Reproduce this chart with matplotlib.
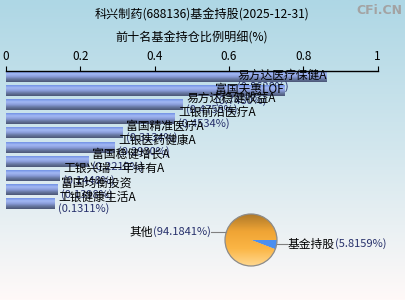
import matplotlib

matplotlib.use("Agg")
import matplotlib.pyplot as plt
import numpy as np
from matplotlib.colors import LinearSegmentedColormap
from matplotlib.patches import Circle

plt.rcParams["font.family"] = ["Noto Sans CJK SC", "DejaVu Sans"]

TITLE = "科兴制药(688136)基金持股(2025-12-31)"
SUBTITLE = "前十名基金持仓比例明细(%)"
FUNDS = [
    "易方达医疗保健A", "富国天惠LOF", "易方达稳健收益A", "工银前沿医疗A", "富国精准医疗A",
    "工银医药健康A", "富国稳健增长A", "工银兴瑞一年持有A", "富国均衡投资", "工银健康生活A",
]
RATIOS = [0.8628, 0.7480, 0.4758, 0.4534, 0.3134, 0.2930, 0.2210, 0.1448, 0.1398, 0.1311]
X_TICKS = [0, 0.2, 0.4, 0.6, 0.8, 1]
X_TICK_LABELS = ["0", "0.2", "0.4", "0.6", "0.8", "1"]
PIE_LABELS = ["基金持股", "其他"]
PIE_VALUES = [5.8159, 94.1841]

W, H = 405, 300
PCT_COLOR = "#27306b"


def px_box(left, top, right, bottom):
    return [left / W, 1 - bottom / H, (right - left) / W, (bottom - top) / H]


fig = plt.figure(figsize=(W / 100, H / 100), dpi=100)

# background gradient
bg = fig.add_axes([0, 0, 1, 1], zorder=-10)
bg_cmap = LinearSegmentedColormap.from_list("bg", ["#aed7e5", "#d3e7ee", "#fff9f8"])
bg.imshow(np.linspace(0, 1, 256).reshape(-1, 1), aspect="auto", cmap=bg_cmap, extent=(0, 1, 0, 1), origin="upper")
bg.set_axis_off()

fig.text(202 / W, 1 - 15 / H, TITLE, ha="center", va="center", fontsize=8.7)
fig.text(192 / W, 1 - 38 / H, SUBTITLE, ha="center", va="center", fontsize=8.7)
fig.text(402 / W, 1 - 10 / H, "CFi.CN", ha="right", va="center", fontsize=9, fontweight="bold",
         color="#a3a3a3", family="DejaVu Sans")

# bars
ax = fig.add_axes(px_box(6, 71, 377.7, 213))
ax.patch.set_alpha(0)
bar_cmap = LinearSegmentedColormap.from_list(
    "bar", ["#7393e6", "#a3b8f4", "#8a9ddb", "#66769f", "#4c5877"])
grad = np.linspace(0, 1, 32).reshape(-1, 1)
h = 0.74
for i, (name, val) in enumerate(zip(FUNDS, RATIOS)):
    ax.imshow(grad, cmap=bar_cmap, aspect="auto", origin="upper",
              extent=(0, val, i + h / 2, i - h / 2), zorder=2 + 2 * i)
    if val > 0.5:
        name_txt = ax.annotate(name, xy=(val, i), xytext=(0, 1.1), textcoords="offset points",
                               ha="right", va="center", fontsize=8.5, zorder=3 + 2 * i)
    else:
        name_txt = ax.annotate(name, xy=(val, i), xytext=(2.5, 5), textcoords="offset points",
                               ha="left", va="center", fontsize=8.5, zorder=3 + 2 * i)
    ax.annotate(f"({val:.4f}%)", xy=(0, 0.5), xycoords=name_txt, xytext=(0, -8.3),
                textcoords="offset points", ha="left", va="center", fontsize=8,
                color=PCT_COLOR, zorder=3 + 2 * i)

ax.set_xlim(0, 1)
ax.set_ylim(9.636, -0.389)
ax.xaxis.tick_top()
ax.set_xticks(X_TICKS)
ax.set_xticklabels(X_TICK_LABELS, fontsize=8.5)
ax.tick_params(axis="x", direction="out", length=3.6, width=0.8, pad=2, colors="black")
ax.set_yticks([])
for side in ("left", "right", "bottom"):
    ax.spines[side].set_visible(False)
ax.spines["top"].set_linewidth(1.0)

# pie
r_px = 26
pax = fig.add_axes(px_box(251 - 30, 240 - 30, 251 + 30, 240 + 30))
pax.patch.set_alpha(0)
lim = 30 / r_px
wedges, _ = pax.pie(PIE_VALUES, startangle=0, counterclock=False, radius=1,
                    colors=["#4b8ff0", "#f5a832"], wedgeprops=dict(linewidth=0))
pie_cmap = LinearSegmentedColormap.from_list("pie", ["#b07a2a", "#f0a535", "#fbb545", "#ffd88e"])
im = pax.imshow(np.linspace(0, 1, 64).reshape(-1, 1), cmap=pie_cmap, aspect="auto",
                extent=(-1, 1, -1, 1), origin="upper", zorder=1.5)
im.set_clip_path(wedges[1])
wedges[0].set_clip_path(Circle((0, 0), 0.98, transform=pax.transData))
pax.add_patch(Circle((0, 0), 1, fill=False, edgecolor="#8c8c8c", linewidth=0.9, zorder=3))
pax.set_xlim(-lim, lim)
pax.set_ylim(-lim, lim)
pax.set_aspect("equal")
pax.set_axis_off()

# pie labels with leader lines
y_in, y_out = -0.15, 0.31
pax.plot([np.sqrt(1 - y_in ** 2), 1.40], [y_in, y_in], color="#808080", lw=0.8, clip_on=False)
pax.plot([-np.sqrt(1 - y_out ** 2), -1.52], [y_out, y_out], color="#808080", lw=0.8, clip_on=False)
t1 = pax.text(1.42, y_in, PIE_LABELS[0], ha="left", va="center", fontsize=8.5)
pax.annotate(f"({PIE_VALUES[0]:.4f}%)", xy=(1, 0.5), xycoords=t1, ha="left", va="center",
             fontsize=8, color=PCT_COLOR)
t2 = pax.text(-1.54, y_out, f"({PIE_VALUES[1]:.4f}%)", ha="right", va="center", fontsize=8,
              color=PCT_COLOR)
pax.annotate(PIE_LABELS[1], xy=(0, 0.5), xycoords=t2, ha="right", va="center", fontsize=8.5)

fig.savefig("out.png", dpi=100)
